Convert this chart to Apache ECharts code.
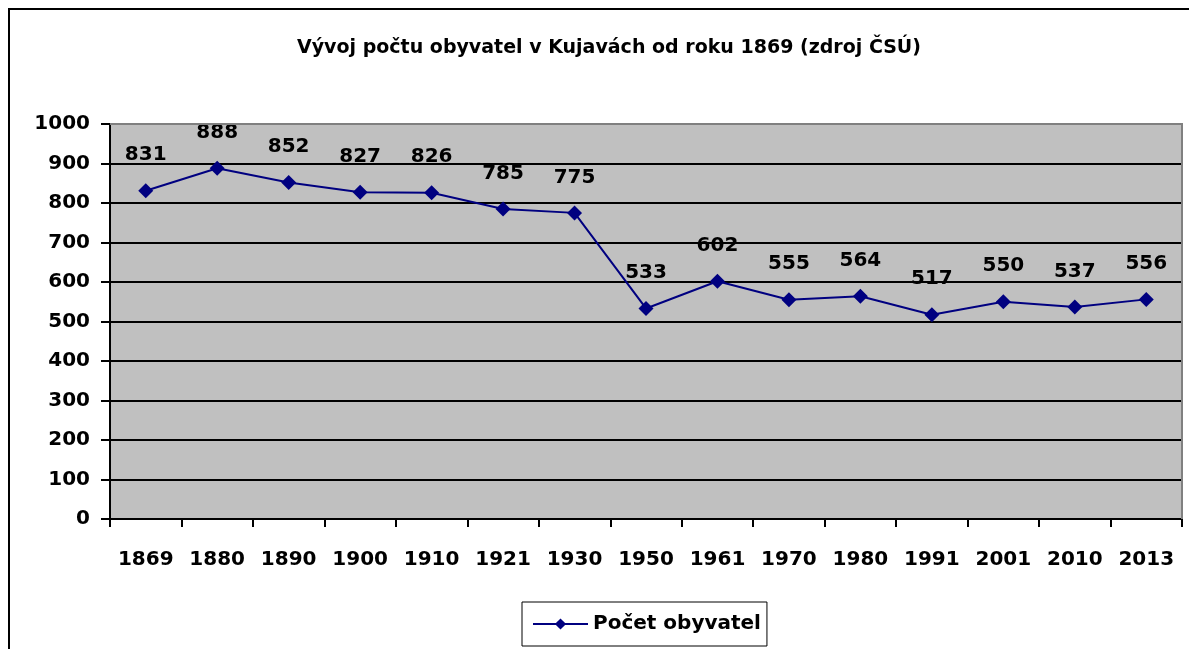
<!DOCTYPE html>
<html><head><meta charset="utf-8">
<script src="https://cdn.jsdelivr.net/npm/echarts@6/dist/echarts.min.js"></script>
<style>html,body{margin:0;padding:0;background:#fff;}#c{width:1189px;height:649px;}</style>
</head><body><div id="c"></div>
<script>
const titleText = 'Vývoj počtu obyvatel v Kujavách od roku 1869 (zdroj ČSÚ)';
const seriesName = 'Počet obyvatel';
const years = ['1869','1880','1890','1900','1910','1921','1930','1950','1961','1970','1980','1991','2001','2010','2013'];
const population = [831, 888, 852, 827, 826, 785, 775, 533, 602, 555, 564, 517, 550, 537, 556];
const yTicks = [0, 100, 200, 300, 400, 500, 600, 700, 800, 900, 1000];

const FONT = '"DejaVu Sans", sans-serif';
const chart = echarts.init(document.getElementById('c'), null, {renderer: 'canvas'});
chart.setOption({
  animation: false,
  backgroundColor: '#fff',
  graphic: [{
    type: 'rect', z: -1,
    shape: {x: 9, y: 9, width: 1200, height: 660},
    style: {fill: 'none', stroke: '#000', lineWidth: 2}
  }, {
    type: 'polyline', z: 10,
    shape: {points: [[110, 124], [1182, 124], [1182, 519]]},
    style: {stroke: '#808080', lineWidth: 2, fill: 'none'}
  }],
  title: {
    text: titleText, left: 604, top: 34, textAlign: 'center',
    textStyle: {fontFamily: FONT, fontWeight: 'bold', fontSize: 19, color: '#000'}
  },
  legend: {
    data: [seriesName], left: 522, top: 602,
    borderColor: '#000', borderWidth: 1, padding: [12, 6, 12, 10],
    itemWidth: 55, itemHeight: 14, itemGap: 6,
    textStyle: {fontFamily: FONT, fontWeight: 'bold', fontSize: 20, color: '#000'}
  },
  grid: {left: 110, right: 7, top: 124, bottom: 130, show: true, backgroundColor: '#C0C0C0', borderWidth: 0},
  xAxis: {
    type: 'category', data: years, boundaryGap: true,
    axisLine: {lineStyle: {color: '#000', width: 2}},
    axisTick: {show: true, inside: false, length: 8, lineStyle: {color: '#000', width: 2}, alignWithLabel: false},
    axisLabel: {fontFamily: FONT, fontWeight: 'bold', fontSize: 20, color: '#000', margin: 31, interval: 0}
  },
  yAxis: {
    type: 'value', min: yTicks[0], max: yTicks[yTicks.length - 1], interval: 100,
    axisLine: {show: true, lineStyle: {color: '#000', width: 2}},
    axisTick: {show: true, inside: false, length: 9, lineStyle: {color: '#000', width: 2}},
    splitLine: {lineStyle: {color: '#000', width: 2}},
    axisLabel: {fontFamily: FONT, fontWeight: 'bold', fontSize: 20, color: '#000', margin: 20,
      formatter: v => String(v)}
  },
  series: [{
    name: seriesName, type: 'line', data: population,
    symbol: 'diamond', symbolSize: 15,
    lineStyle: {color: '#000080', width: 2},
    itemStyle: {color: '#000080'},
    label: {show: true, position: 'top', distance: 18,
      fontFamily: FONT, fontWeight: 'bold', fontSize: 20, color: '#000'}
  }]
});
</script></body></html>
